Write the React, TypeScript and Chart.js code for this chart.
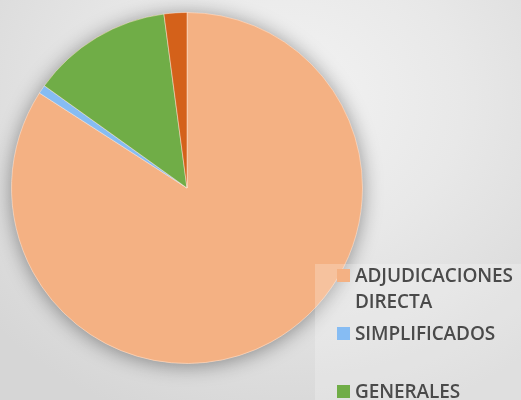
import React, { useEffect, useRef } from "react";
import { Chart, registerables } from "chart.js";

Chart.register(...registerables);

// ---- data ----
const categories: string[][] = [
  ["ADJUDICACIONES", "DIRECTA"],
  ["SIMPLIFICADOS", ""],
  ["GENERALES"],
  ["OTROS"],
];
const shares: number[] = [84.1, 0.8, 13.0, 2.1];
const sliceColors: string[] = ["#F4B183", "#86BCF3", "#70AD47", "#D4611A"];
const legendVisibleCount = 3;

const W = 521;
const H = 400;

const shadowPlugin = {
  id: "pieShadow",
  beforeDatasetsDraw(chart: any) {
    const meta = chart.getDatasetMeta(0);
    const arc = meta && meta.data && meta.data[0];
    if (!arc) return;
    const ctx = chart.ctx;
    ctx.save();
    ctx.shadowColor = "rgba(0,0,0,0.4)";
    ctx.shadowBlur = 20;
    ctx.shadowOffsetX = 0;
    ctx.shadowOffsetY = 2;
    ctx.beginPath();
    ctx.arc(arc.x, arc.y, arc.outerRadius, 0, Math.PI * 2);
    ctx.fillStyle = sliceColors[0];
    ctx.fill();
    ctx.restore();
  },
};

export default function App() {
  const ref = useRef<HTMLCanvasElement | null>(null);

  useEffect(() => {
    document.body.style.margin = "0";
    if (!ref.current) return;
    const chart = new Chart(ref.current, {
      type: "pie",
      data: {
        labels: categories.map((c) => c.filter((s) => s).join(" ")),
        datasets: [
          {
            data: shares,
            backgroundColor: sliceColors,
            borderColor: "rgba(255,240,230,0.45)",
            borderWidth: 1,
            hoverOffset: 0,
            hoverBorderWidth: 1,
          },
        ],
      },
      options: {
        responsive: false,
        animation: false,
        events: [],
        layout: { padding: { left: 11, top: 12, right: W - 363, bottom: H - 364 } },
        plugins: {
          legend: { display: false },
          tooltip: { enabled: false },
        },
      },
      plugins: [shadowPlugin],
    });
    return () => chart.destroy();
  }, []);

  const lineH = 26;
  const gap = 6;
  let top = 262;
  const items = categories.slice(0, legendVisibleCount).map((lines, i) => {
    const t = top;
    top += lines.length * lineH + gap;
    return (
      <div key={i} style={{ position: "absolute", left: 0, top: t, width: W }}>
        <div
          style={{
            position: "absolute",
            left: 337,
            top: 7,
            width: 13,
            height: 13,
            background: sliceColors[i],
          }}
        />
        <div
          style={{
            position: "absolute",
            left: 355,
            top: 0,
            fontFamily: "'Open Sans', sans-serif",
            fontSize: 19,
            fontWeight: 600,
            lineHeight: lineH + "px",
            color: "#4a4a4a",
            letterSpacing: "-0.1px",
            whiteSpace: "pre",
          }}
        >
          {lines.map((l, j) => (
            <div key={j} style={{ height: lineH }}>
              {l}
            </div>
          ))}
        </div>
      </div>
    );
  });

  return (
    <div
      style={{
        position: "fixed",
        left: 0,
        top: 0,
        width: W,
        height: H,
        overflow: "hidden",
        background:
          "radial-gradient(ellipse 75% 85% at 55% 25%, #f3f3f3 0%, #e8e8e8 45%, #d6d6d6 100%)",
      }}
    >
      <canvas ref={ref} width={W} height={H} style={{ position: "absolute", left: 0, top: 0 }} />
      <div
        style={{
          position: "absolute",
          left: 315,
          top: 264,
          width: W - 315,
          height: H - 264,
          background: "rgba(255,255,255,0.22)",
        }}
      />
      {items}
    </div>
  );
}
